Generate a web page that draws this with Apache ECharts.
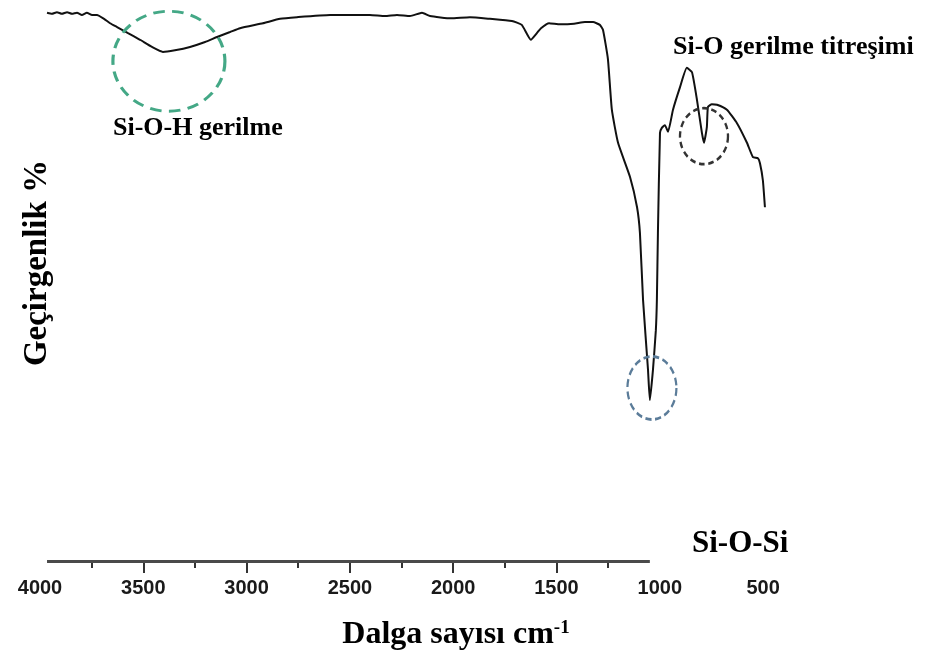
<!DOCTYPE html>
<html>
<head>
<meta charset="utf-8">
<script src="https://cdn.jsdelivr.net/npm/echarts@6/dist/echarts.min.js"></script>
<style>html,body{margin:0;padding:0;background:#fff;}#chart{width:929px;height:662px;}</style>
</head>
<body>
<div id="chart"></div>
<script>
// Wavenumbers (cm-1) and transmittance (%)
const wavenumber = [3966,3942,3918,3894,3869,3845,3821,3797,3773,3748,3724,3690,3661,3627,3574,3516,3458,3405,3347,3274,3201,3143,3080,3032,2921,2838,2756,2596,2403,2330,2272,2209,2151,2112,2011,1919,1822,1716,1668,1624,1595,1575,1536,1483,1415,1362,1323,1290,1275,1251,1232,1202,1144,1110,1096,1081,1057,1048,1033,1019,1014,1009,999,990,975,960,936,902,869,844,820,796,786,772,767,748,723,675,627,578,549,525,515,501,491];
const transmittance = [99.5,99.3,99.6,99.3,99.6,99.3,99.5,99.1,99.5,99.1,99.1,98.4,97.6,96.9,95.8,94.6,93.3,92.4,92.7,93.3,94.2,95.1,96.0,96.7,97.6,98.4,98.7,99.1,99.1,98.9,99.1,98.9,99.5,98.9,98.5,98.7,98.4,98.0,97.3,94.6,95.8,96.7,97.6,97.4,97.5,97.8,97.8,97.3,96.4,91.1,81.9,75.9,69.7,64.2,59.5,47.4,34.7,29.2,34.7,41.9,47.4,59.5,77.7,78.6,79.1,77.9,81.9,86.0,89.5,88.7,83.7,77.7,75.9,78.8,82.4,82.9,82.8,81.9,79.5,75.9,73.3,73.1,72.2,69.1,64.2];
// Axis tick labels and tick marks
const tickLabels = [4000,3500,3000,2500,2000,1500,1000,500];
const majorTicks = [3500,3000,2500,2000,1500];
const minorTicks = [3750,3250,2750,2250,1750,1250];
// Baseline drawn only across part of the range (as in the reference)
const baselineRange = [3966,1048];
// Highlighted bands: [wavenumber, transmittance]
const bandSiOH = [3376,90.7];
const bandSiO = [786,77.1];
const bandSiOSi = [1038,31.4];

const chart = echarts.init(document.getElementById('chart'), null, {renderer:'canvas'});
const seriesData = wavenumber.map((w,i)=>[w, transmittance[i]]);
const serif = '"Liberation Serif","Times New Roman",serif';

const option = {
  animation:false,
  backgroundColor:'#fff',
  grid:{left:40, right:155.6, top:10, bottom:101},
  xAxis:[{
    type:'value', min:450, max:4000, inverse:true,
    axisLine:{show:false}, splitLine:{show:false},
    axisTick:{show:true, customValues:majorTicks, length:12, lineStyle:{color:'#333', width:2}},
    axisLabel:{customValues:tickLabels, margin:17, color:'#1a1a1a', fontSize:20, fontWeight:'bold', fontFamily:'"Liberation Sans",Arial,sans-serif', formatter:(v)=>String(v)}
  },{
    type:'value', min:450, max:4000, inverse:true, position:'bottom',
    axisLine:{show:false}, splitLine:{show:false},
    axisTick:{show:true, customValues:minorTicks, length:7, lineStyle:{color:'#333', width:2}},
    axisLabel:{show:false}
  }],
  yAxis:{type:'value', min:0, max:100, show:false},
  series:[{
    type:'line', data:seriesData, symbol:'none', smooth:0.15,
    lineStyle:{color:'#111', width:2},
    markLine:{
      silent:true, symbol:['none','none'], label:{show:false},
      lineStyle:{color:'#4a4a4a', width:3, type:'solid'},
      data:[[{coord:[baselineRange[0],0]},{coord:[baselineRange[1],0]}]]
    },
    markPoint:{
      silent:true, symbol:'circle', label:{show:false},
      data:[
        {coord:bandSiOH, symbolSize:[112,100], itemStyle:{color:'rgba(0,0,0,0)', borderColor:'#44a886', borderWidth:3, borderType:[11,7]}},
        {coord:bandSiO, symbolSize:[48,56], itemStyle:{color:'rgba(0,0,0,0)', borderColor:'#333', borderWidth:2.5, borderType:[6,4]}},
        {coord:bandSiOSi, symbolSize:[49,63], itemStyle:{color:'rgba(0,0,0,0)', borderColor:'#5b7c99', borderWidth:2.5, borderType:[7,4]}}
      ]
    }
  }],
  graphic:[
    {type:'text', x:113, y:128, style:{text:'Si-O-H gerilme', font:'bold 26px '+serif, fill:'#000', textAlign:'left', textVerticalAlign:'middle'}},
    {type:'text', x:673, y:47, style:{text:'Si-O gerilme titreşimi', font:'bold 26px '+serif, fill:'#000', textAlign:'left', textVerticalAlign:'middle'}},
    {type:'text', x:692, y:544, style:{text:'Si-O-Si', font:'bold 31px '+serif, fill:'#000', textAlign:'left', textVerticalAlign:'middle'}},
    {type:'text', x:456, y:635, style:{text:'Dalga sayısı cm{sup|-1}', font:'bold 32px '+serif, fill:'#000', textAlign:'center', textVerticalAlign:'middle',
      rich:{sup:{font:'bold 19px '+serif, fill:'#000', verticalAlign:'top', padding:[0,0,14,0]}}}},
    {type:'text', x:37, y:263, rotation:Math.PI/2, style:{text:'Geçirgenlik %', font:'bold 33px '+serif, fill:'#000', textAlign:'center', textVerticalAlign:'middle'}}
  ]
};
chart.setOption(option);
</script>
</body>
</html>
